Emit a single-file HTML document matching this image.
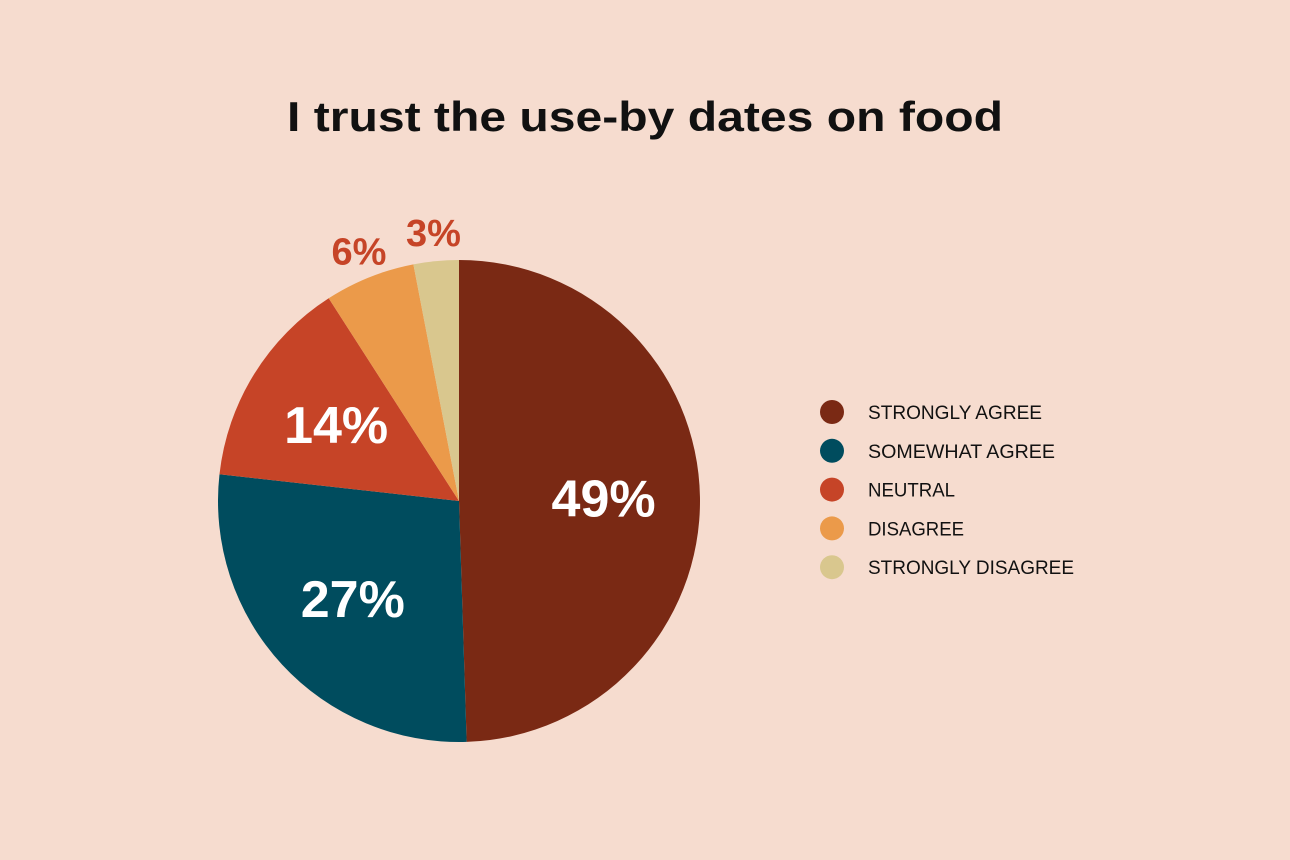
<!DOCTYPE html>
<html><head><meta charset="utf-8"><style>
html,body{margin:0;padding:0;background:#f6dccf;}
svg{display:block;font-family:"Liberation Sans",sans-serif;}
</style></head><body>
<svg width="1290" height="860" viewBox="0 0 1290 860">
<rect width="1290" height="860" fill="#f6dccf"/>
<text x="645" y="131" text-anchor="middle" font-size="42" font-weight="bold" fill="#111" textLength="716" lengthAdjust="spacingAndGlyphs">I trust the use-by dates on food</text>
<g id="slices"></g>
<g id="labels"></g>
<g id="legend"></g>
</svg>
<script>
const categories=["STRONGLY AGREE","SOMEWHAT AGREE","NEUTRAL","DISAGREE","STRONGLY DISAGREE"];
const values=[49,27,14,6,3];
const valueLabels=["49%","27%","14%","6%","3%"];
const colors=["#7a2914","#004c5e","#c64427","#eb9a4a","#d9c78e"];
const NS="http://www.w3.org/2000/svg";
const cx=459,cy=501,r=241;
const total=values.reduce((a,b)=>a+b,0);
function pt(a,rr){return [cx+rr*Math.sin(a),cy-rr*Math.cos(a)];}
const sg=document.getElementById('slices'),lg=document.getElementById('labels'),leg=document.getElementById('legend');
let a0=0;
values.forEach((v,i)=>{
  const a1=a0+v/total*2*Math.PI;
  const p0=pt(a0,r),p1=pt(a1,r);
  const large=(a1-a0)>Math.PI?1:0;
  const p=document.createElementNS(NS,'path');
  p.setAttribute('d',`M${cx},${cy}L${p0[0]},${p0[1]}A${r},${r} 0 ${large} 1 ${p1[0]},${p1[1]}Z`);
  p.setAttribute('fill',colors[i]);
  
  
  sg.appendChild(p);
  const mid=(a0+a1)/2;
  const small=v<10;
  const lr=small?r+28:r*0.6;
  const lp=pt(mid,lr);
  const t=document.createElementNS(NS,'text');
  t.setAttribute('x',lp[0]);t.setAttribute('y',lp[1]+(small?13:18));
  t.setAttribute('text-anchor','middle');
  t.setAttribute('font-weight','bold');
  t.setAttribute('font-size',small?'38':'52');
  t.setAttribute('fill',small?'#c64427':'#ffffff');
  t.textContent=valueLabels[i];
  
  
  lg.appendChild(t);
  a0=a1;
});
const widths=[174,187,87,96,206];
categories.forEach((c,i)=>{
  const y=412+i*38.8;
  const g=document.createElementNS(NS,'g');
  
  
  const ci=document.createElementNS(NS,'circle');
  ci.setAttribute('cx',832);ci.setAttribute('cy',y);ci.setAttribute('r',12);ci.setAttribute('fill',colors[i]);
  
  
  const t=document.createElementNS(NS,'text');
  t.setAttribute('x',868);t.setAttribute('y',y+7);t.setAttribute('font-size','19');t.setAttribute('fill','#111');
  t.setAttribute('textLength',widths[i]);t.setAttribute('lengthAdjust','spacingAndGlyphs');
  t.textContent=c;
  
  
  g.appendChild(ci);g.appendChild(t);leg.appendChild(g);
});
</script>
</body></html>
